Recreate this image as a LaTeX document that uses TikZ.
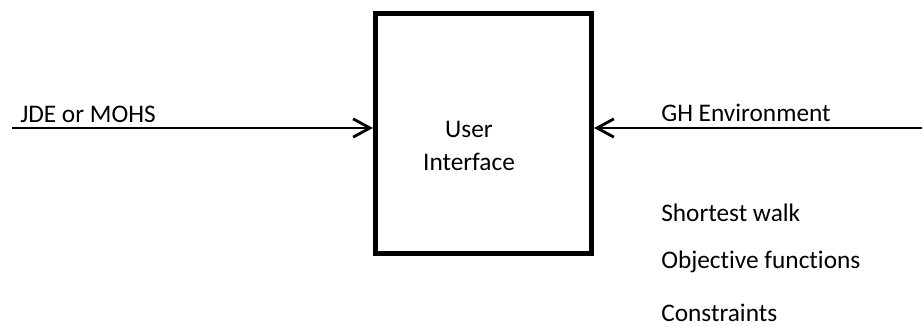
\documentclass[tikz,border=0pt]{standalone}
\usepackage{fontspec}
\setmainfont{Carlito}[Ligatures=NoCommon]
\usetikzlibrary{arrows.meta}
\usetikzlibrary{positioning}

\begin{document}
\begin{tikzpicture}[x=0.025cm,y=-0.025cm,>={Straight Barb[length=12pt,width=13pt,line width=2pt]},font=\fontsize{18}{24}\selectfont]
			\useasboundingbox (0,0) rectangle (922,327);
			\node[rectangle, minimum width = 5.4cm, minimum height = 6cm, line width = 3.6pt, draw = black] (ui) at (483.5, 133.5) {};
			\node[align=center] (uitext) at (469, 146) {User\\Interface};
			\coordinate (src) at (12, 128);
			\coordinate (env) at (922, 128);
			\draw[->, line width = 2pt] (src) -- (src -| ui.west);
			\draw[->, line width = 2pt] (env) -- (env -| ui.east);
			\node[anchor=base west, inner sep=0pt] (jde) at (20, 123) {JDE or MOHS};
			\node[anchor=base west, inner sep=0pt] (gh) at (661, 122) {GH Environment};
			\node[anchor=west, inner sep=0pt] (walk) at (661, 213) {Shortest walk};
			\node[anchor=west, inner sep=0pt] (obj) at (661, 262) {Objective functions};
			\node[anchor=west, inner sep=0pt] (cons) at (661, 313) {Constraints};
		\end{tikzpicture}
\end{document}
